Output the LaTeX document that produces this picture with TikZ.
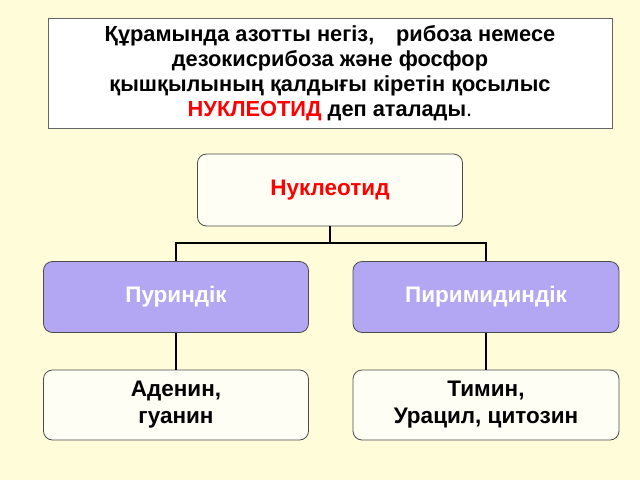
\documentclass[tikz,border=0pt]{standalone}
\usepackage{fontspec}
\setmainfont{Liberation Sans}
\begin{document}
\begin{tikzpicture}[x=1pt,y=-1pt,
  box/.style={draw=black!70,line width=0.8pt,rounded corners=9pt,fill=white!96!yellow,font=\bfseries\fontsize{22.5}{27}\selectfont,align=center,inner sep=0pt},
  pbox/.style={box,fill=violet!30!blue!35!white,text=white},
  conn/.style={line width=1.5pt}]
\fill[yellow!15!white] (0,0) rectangle (640,480);
\useasboundingbox (0,0) rectangle (640,480);
\node[draw=black!60,fill=white,minimum width=564pt,minimum height=110pt,inner sep=0pt,align=center,font=\bfseries\fontsize{21.8}{25}\selectfont] (top) at (330,73) {Құрамында азотты негіз,\quad рибоза немесе\\дезокисрибоза және фосфор\\ қышқылының қалдығы кіретін қосылыс\\{\color{red}НУКЛЕОТИД} деп аталады{\normalfont .}};
\node[box,minimum width=265pt,minimum height=72pt,text=red] (n) at (330,190) {Нуклеотид};
\node[pbox,minimum width=265pt,minimum height=71pt] (p) at (176,297) {Пуриндік};
\node[pbox,minimum width=266pt,minimum height=71pt] (q) at (486,297) {Пиримидиндік};
\node[box,minimum width=265pt,minimum height=70pt] (a) at (176,405) {Аденин,\\гуанин};
\node[box,minimum width=266pt,minimum height=70pt] (t) at (486,405) {Тимин,\\Урацил, цитозин};
\coordinate (j) at (330,243);
\draw[conn] (n.south) -- (j);
\draw[conn] (p.north) |- (j) -| (q.north);
\draw[conn] (p.south) -- (a.north);
\draw[conn] (q.south) -- (t.north);
\end{tikzpicture}
\end{document}
